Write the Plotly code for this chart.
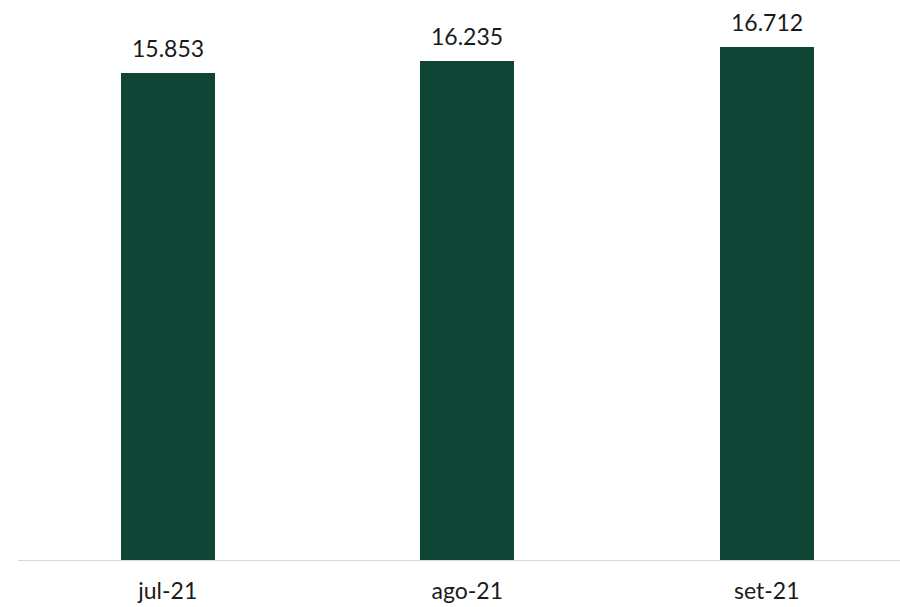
import plotly.graph_objects as go

categories = ["jul-21", "ago-21", "set-21"]
values = [15.853, 16.235, 16.712]
labels = ["15.853", "16.235", "16.712"]

fig = go.Figure(go.Bar(
    x=categories, y=values,
    marker=dict(color="#0f4534", line=dict(width=0)),
    width=0.314, hoverinfo="skip",
))
for c, v, t in zip(categories, values, labels):
    fig.add_annotation(x=c, y=v, text=t, showarrow=False, yanchor="bottom",
                       yshift=9, font=dict(size=23, color="#1a1a1a"))
fig.update_layout(
    width=900, height=607, margin=dict(l=18, r=0, t=0, b=46, pad=0),
    paper_bgcolor="white", plot_bgcolor="white",
    font=dict(family="Lato, Noto Sans, sans-serif", size=22, color="#1a1a1a"),
    showlegend=False,
    xaxis=dict(range=[-0.5, 2.445], showgrid=False, showline=False, ticks="",
               tickfont=dict(size=23), ticklabelstandoff=14, automargin=False,
               fixedrange=True),
    yaxis=dict(range=[0, 18.23], visible=False, showgrid=False, automargin=False,
               fixedrange=True),
    bargap=0,
)
fig.add_shape(type="line", xref="paper", yref="y", x0=0, x1=1, y0=0, y1=0,
              line=dict(color="#d9d9d9", width=2))
fig.write_html("out.html", config={"displayModeBar": False, "staticPlot": True},
               post_script="document.body.style.margin='0px';document.body.style.padding='0px';")
